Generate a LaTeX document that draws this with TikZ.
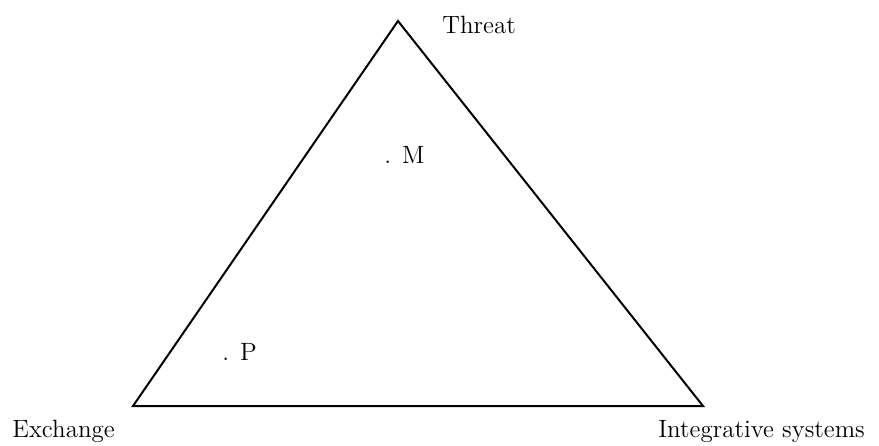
\documentclass[tikz,border=0pt]{standalone}
\usetikzlibrary{calc}
\definecolor{ShapeClr}{rgb}{0,0,0}

\begin{document}
\begin{tikzpicture}[x=0.5pt,y=-0.5pt,
  side/.style={line width=1pt,color=ShapeClr},
  lbl/.style={inner sep=0pt,anchor=base west,font=\fontsize{12.5}{15}\selectfont}]
\useasboundingbox (0,0) rectangle (879,445);

\coordinate (T) at (398,21);
\coordinate (E) at (133,406);
\coordinate (I) at (703,406);

\draw[side] (T) -- (E) -- (I) -- cycle;

\node[lbl] (threat) at (442,33) {Threat};
\node[lbl] (exchange) at (12,437) {Exchange};
\node[lbl] (integr) at (658,437) {Integrative systems};
\node[lbl] (M) at (384,163) {. M};
\node[lbl] (P) at (222,360) {. P};

\end{tikzpicture}
\end{document}
